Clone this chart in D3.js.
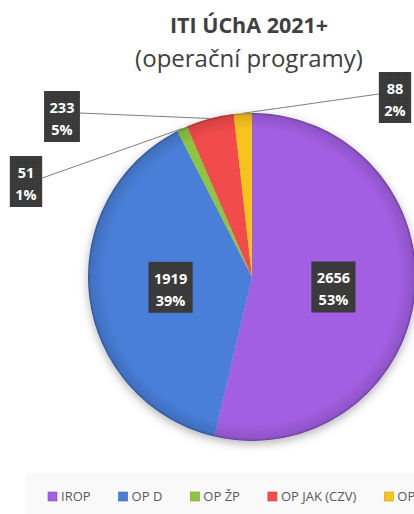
<!DOCTYPE html>
<html>
<head>
<meta charset="utf-8">
<script src="https://cdn.jsdelivr.net/npm/d3@7"></script>
<style>
	html, body { margin: 0; padding: 0; background: #fff; overflow: hidden; }
	svg { display: block; }
</style>
</head>
<body>
<script>
// data
const programs = ["IROP", "OP D", "OP ŽP", "OP JAK (CZV)", "OP TAK"];
const amounts = [2656, 1919, 51, 233, 88];
const percents = [53, 39, 1, 5, 2];
const colors = ["#a35fe3", "#4a7fd9", "#8cc63e", "#f24c4c", "#f8c41a"];

const width = 414, height = 514;
const cx = 252, cy = 277, radius = 164;
const font = "'Open Sans', Lato, sans-serif";

// where the small slices have their labels (offset from the pie centre)
const outsideLabels = {2: [-226, -96], 3: [-190, -161], 4: [143, -180]};

const data = programs.map((name, i) => ({name, value: amounts[i], pct: percents[i], color: colors[i], i}));

const svg = d3.select("body").append("svg")
	.attr("width", width)
	.attr("height", height)
	.attr("font-family", font);

const defs = svg.append("defs");
const shadow = defs.append("filter").attr("id", "shadow")
	.attr("x", "-20%").attr("y", "-20%").attr("width", "140%").attr("height", "140%");
shadow.append("feDropShadow")
	.attr("dx", 0).attr("dy", 3)
	.attr("stdDeviation", 5)
	.attr("flood-color", "#000")
	.attr("flood-opacity", 0.3);

const rim = defs.append("radialGradient").attr("id", "rim");
rim.append("stop").attr("offset", "0.9").attr("stop-color", "#000").attr("stop-opacity", 0);
rim.append("stop").attr("offset", "0.985").attr("stop-color", "#000").attr("stop-opacity", 0.12);
rim.append("stop").attr("offset", "1").attr("stop-color", "#000").attr("stop-opacity", 0.35);

const boxTex = defs.append("pattern").attr("id", "tex")
	.attr("width", 2).attr("height", 2).attr("patternUnits", "userSpaceOnUse");
boxTex.append("rect").attr("width", 2).attr("height", 2).attr("fill", "#3d3d3d");
boxTex.append("rect").attr("width", 1).attr("height", 1).attr("fill", "#333");

// title
svg.append("text")
	.attr("x", 249).attr("y", 33)
	.attr("text-anchor", "middle")
	.attr("font-size", 21.5)
	.attr("font-weight", "bold")
	.attr("fill", "#404040")
	.text("ITI ÚChA 2021+");

svg.append("text")
	.attr("x", 249).attr("y", 67)
	.attr("text-anchor", "middle")
	.attr("font-size", 24)
	.attr("fill", "#404040")
	.text("(operační programy)");

// pie
const pie = d3.pie()
	.sort(null)
	.value(d => d.value);
const arc = d3.arc()
	.innerRadius(0)
	.outerRadius(radius);
const arcs = pie(data);

const g = svg.append("g")
	.attr("transform", `translate(${cx},${cy})`);

g.append("g")
		.attr("filter", "url(#shadow)")
	.selectAll("path")
	.data(arcs)
	.join("path")
		.attr("fill", d => d.data.color)
		.attr("d", arc);

g.append("circle")
	.attr("r", radius)
	.attr("fill", "url(#rim)");

// leader lines for the small slices
const edgePoint = d => {
	const a = (d.startAngle + d.endAngle) / 2;
	return [Math.sin(a) * radius, -Math.cos(a) * radius];
};

const labels = g.append("g")
	.attr("font-size", 14.5)
	.attr("font-weight", "bold")
	.attr("text-anchor", "middle");

arcs.forEach(d => {
	const pos = outsideLabels[d.data.i] || arc.centroid(d);
	const lab = labels.append("g").attr("transform", `translate(${pos})`);
	const t1 = lab.append("text").attr("y", -3).attr("fill", "#fff").text(d.data.value);
	const t2 = lab.append("text").attr("y", 19).attr("fill", "#fff").text(d.data.pct + "%");
	const w = Math.max(t1.node().getComputedTextLength(), t2.node().getComputedTextLength()) + 11;
	lab.insert("rect", "text")
		.attr("x", -w / 2).attr("y", -25)
		.attr("width", w).attr("height", 51)
		.attr("fill", "url(#tex)");
	if (outsideLabels[d.data.i]) {
		const p = edgePoint(d);
		const sx = pos[0] < 0 ? pos[0] + w / 2 : pos[0] - w / 2;
		g.insert("line", "g:last-of-type")
			.attr("x1", sx).attr("y1", pos[1] - 3)
			.attr("x2", p[0]).attr("y2", p[1])
			.attr("stroke", "#7f7f7f")
			.attr("stroke-width", 1);
	}
});

// legend
const legend = svg.append("g");
legend.append("rect")
	.attr("x", 25).attr("y", 473)
	.attr("width", width - 25).attr("height", 41)
	.attr("fill", "#f9f9f9");

let lx = 48;
data.forEach(d => {
	const item = legend.append("g").attr("transform", `translate(${lx},0)`);
	item.append("rect")
		.attr("x", 0).attr("y", 492)
		.attr("width", 9).attr("height", 9)
		.attr("fill", d.color)
		.attr("stroke", d3.color(d.color).darker(0.6))
		.attr("stroke-width", 0.6);
	const t = item.append("text")
		.attr("x", 13).attr("y", 501)
		.attr("font-size", 13)
		.attr("fill", "#595959")
		.text(d.name);
	lx += 13 + t.node().getComputedTextLength() + 28;
});
</script>
</body>
</html>
